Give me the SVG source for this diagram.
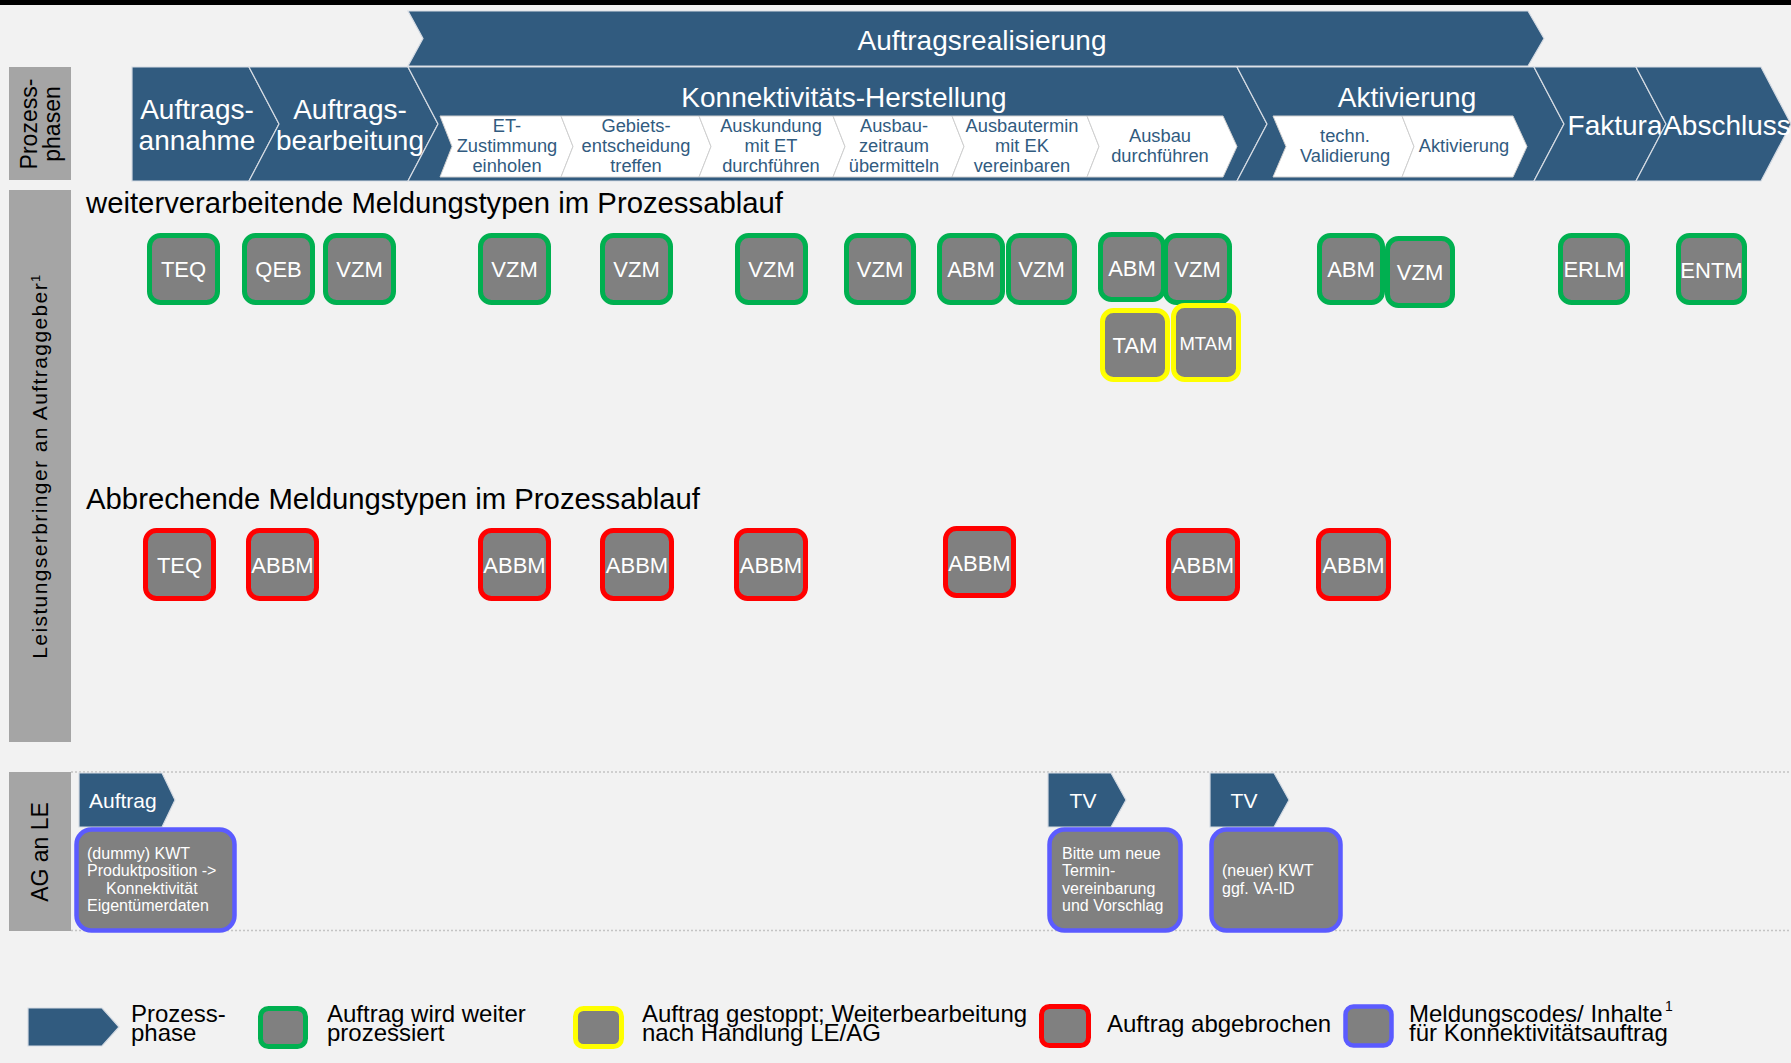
<svg xmlns="http://www.w3.org/2000/svg" width="1791" height="1063" viewBox="0 0 1791 1063">
<style>
text{font-family:"Liberation Sans",Arial,sans-serif}
.chev{fill:#315b7f;stroke:#d5dbe3;stroke-width:1.2}
.sub{fill:#ffffff;stroke:#d0d0d0;stroke-width:1}
.ct{fill:#ffffff;font-size:28px;text-anchor:middle}
.st{fill:#315b7f;font-size:18.3px;text-anchor:middle}
.lbl{fill:#a5a5a5}
.lt{fill:#000000;font-size:23px;text-anchor:middle}
.node{fill:#808080;stroke-width:5}
.g{stroke:#00b050}
.y{stroke:#ffff00}
.r{stroke:#ff0000}
.b{stroke:#5b5bff;stroke-width:4.5}
.nt{fill:#ffffff;font-size:22px;text-anchor:middle}
.bt{fill:#ffffff;font-size:16px}
.sec{fill:#000000;font-size:29.3px}
.leg{fill:#000000;font-size:24px}
.dot{stroke:#c4c4c4;stroke-width:1.5;stroke-dasharray:2 2;fill:none}
</style>
<rect x="0" y="0" width="1791" height="1063" fill="#f2f2f2"/>
<rect x="0" y="0" width="1791" height="5" fill="#000000"/>

<!-- left labels -->
<g id="label-prozessphasen">
<rect class="lbl" x="9" y="67" width="62" height="113"/>
<text class="lt" transform="translate(37,124) rotate(-90)"><tspan x="0" y="0">Prozess-</tspan><tspan x="0" dy="22.5">phasen</tspan></text>
</g>
<g id="label-le-an-ag">
<rect class="lbl" x="9" y="190" width="62" height="552"/>
<text class="lt" style="font-size:21px;letter-spacing:1.4px" transform="translate(47,466) rotate(-90)">Leistungserbringer an Auftraggeber<tspan font-size="13" baseline-shift="super">1</tspan></text>
</g>
<g id="label-ag-an-le">
<rect class="lbl" x="9" y="772" width="62" height="159"/>
<text class="lt" transform="translate(48,852) rotate(-90)">AG an LE</text>
</g>

<!-- dotted separators -->
<line class="dot" x1="71" y1="772" x2="1791" y2="772"/>
<line class="dot" x1="71" y1="930.5" x2="1791" y2="930.5"/>

<!-- banner -->
<g id="phase-auftragsrealisierung">
<polygon class="chev" points="408,11 1528,11 1544,38.5 1528,66 408,66 423,38.5"/>
<text class="ct" x="982" y="50">Auftragsrealisierung</text>
</g>

<!-- main phases -->
<g id="phase-auftragsannahme">
<polygon class="chev" points="132,67 249,67 279,124 249,181 132,181"/>
<text class="ct" x="197" y="119">Auftrags-</text>
<text class="ct" x="197" y="150">annahme</text>
</g>
<g id="phase-auftragsbearbeitung">
<polygon class="chev" points="249,67 408,67 438,124 408,181 249,181 279,124"/>
<text class="ct" x="350" y="119">Auftrags-</text>
<text class="ct" x="350" y="150">bearbeitung</text>
</g>
<g id="phase-konnektivitaet">
<polygon class="chev" points="408,67 1237,67 1267,124 1237,181 408,181 438,124"/>
<text class="ct" x="844" y="107">Konnektivitäts-Herstellung</text>
</g>
<g id="phase-aktivierung">
<polygon class="chev" points="1237,67 1534,67 1564,124 1534,181 1237,181 1267,124"/>
<text class="ct" x="1407" y="107">Aktivierung</text>
</g>
<g id="phase-faktura">
<polygon class="chev" points="1534,67 1636,67 1666,124 1636,181 1534,181 1564,124"/>
<text class="ct" x="1615" y="135">Faktura</text>
</g>
<g id="phase-abschluss">
<polygon class="chev" points="1636,67 1761,67 1791,124 1761,181 1636,181 1666,124"/>
<text class="ct" x="1727" y="135">Abschluss</text>
</g>

<!-- sub phases -->
<g id="sub-et-zustimmung">
<polygon class="sub" points="440,116 561,116 573,146.5 561,177 440,177 452,146.5"/>
<text class="st"><tspan x="507" y="132">ET-</tspan><tspan x="507" y="152">Zustimmung</tspan><tspan x="507" y="172">einholen</tspan></text>
</g>
<g id="sub-gebietsentscheidung">
<polygon class="sub" points="561,116 699,116 711,146.5 699,177 561,177 573,146.5"/>
<text class="st"><tspan x="636" y="132">Gebiets-</tspan><tspan x="636" y="152">entscheidung</tspan><tspan x="636" y="172">treffen</tspan></text>
</g>
<g id="sub-auskundung">
<polygon class="sub" points="699,116 833,116 845,146.5 833,177 699,177 711,146.5"/>
<text class="st"><tspan x="771" y="132">Auskundung</tspan><tspan x="771" y="152">mit ET</tspan><tspan x="771" y="172">durchführen</tspan></text>
</g>
<g id="sub-ausbauzeitraum">
<polygon class="sub" points="833,116 952,116 964,146.5 952,177 833,177 845,146.5"/>
<text class="st"><tspan x="894" y="132">Ausbau-</tspan><tspan x="894" y="152">zeitraum</tspan><tspan x="894" y="172">übermitteln</tspan></text>
</g>
<g id="sub-ausbautermin">
<polygon class="sub" points="952,116 1087,116 1099,146.5 1087,177 952,177 964,146.5"/>
<text class="st"><tspan x="1022" y="132">Ausbautermin</tspan><tspan x="1022" y="152">mit EK</tspan><tspan x="1022" y="172">vereinbaren</tspan></text>
</g>
<g id="sub-ausbau">
<polygon class="sub" points="1087,116 1223,116 1237,146.5 1223,177 1087,177 1099,146.5"/>
<text class="st"><tspan x="1160" y="142">Ausbau</tspan><tspan x="1160" y="162">durchführen</tspan></text>
</g>
<g id="sub-validierung">
<polygon class="sub" points="1273,116 1402,116 1414,146.5 1402,177 1273,177 1286,146.5"/>
<text class="st"><tspan x="1345" y="142">techn.</tspan><tspan x="1345" y="162">Validierung</tspan></text>
</g>
<g id="sub-aktivierung">
<polygon class="sub" points="1402,116 1513,116 1527,146.5 1513,177 1402,177 1414,146.5"/>
<text class="st" x="1464" y="152">Aktivierung</text>
</g>

<!-- section titles -->
<text class="sec" x="86" y="213">weiterverarbeitende Meldungstypen im Prozessablauf</text>
<text class="sec" x="86" y="509">Abbrechende Meldungstypen im Prozessablauf</text>

<!-- green nodes -->
<g id="g-teq"><rect class="node g" x="149.5" y="235.5" width="68" height="67" rx="11"/><text class="nt" x="183.5" y="277">TEQ</text></g>
<g id="g-qeb"><rect class="node g" x="244.5" y="235.5" width="68" height="67" rx="11"/><text class="nt" x="278.5" y="277">QEB</text></g>
<g id="g-vzm1"><rect class="node g" x="325.5" y="235.5" width="68" height="67" rx="11"/><text class="nt" x="359.5" y="277">VZM</text></g>
<g id="g-vzm2"><rect class="node g" x="480.5" y="235.5" width="68" height="67" rx="11"/><text class="nt" x="514.5" y="277">VZM</text></g>
<g id="g-vzm3"><rect class="node g" x="602.5" y="235.5" width="68" height="67" rx="11"/><text class="nt" x="636.5" y="277">VZM</text></g>
<g id="g-vzm4"><rect class="node g" x="737.5" y="235.5" width="68" height="67" rx="11"/><text class="nt" x="771.5" y="277">VZM</text></g>
<g id="g-vzm5"><rect class="node g" x="846.5" y="235.5" width="67" height="67" rx="11"/><text class="nt" x="880" y="277">VZM</text></g>
<g id="g-abm1"><rect class="node g" x="939.5" y="235.5" width="63" height="67" rx="11"/><text class="nt" x="971" y="277">ABM</text></g>
<g id="g-vzm6"><rect class="node g" x="1008.5" y="235.5" width="66" height="67" rx="11"/><text class="nt" x="1041.5" y="277">VZM</text></g>
<g id="g-abm2"><rect class="node g" x="1100.5" y="234.5" width="63" height="65" rx="11"/><text class="nt" x="1132" y="275.5">ABM</text></g>
<g id="g-vzm7"><rect class="node g" x="1165.5" y="235.5" width="64" height="67" rx="11"/><text class="nt" x="1197.5" y="277">VZM</text></g>
<g id="g-abm3"><rect class="node g" x="1319.5" y="235.5" width="63" height="67" rx="11"/><text class="nt" x="1351" y="277">ABM</text></g>
<g id="g-vzm8"><rect class="node g" x="1387.5" y="238.5" width="65" height="67" rx="11"/><text class="nt" x="1420" y="280">VZM</text></g>
<g id="g-erlm"><rect class="node g" x="1560.5" y="235.5" width="67" height="67" rx="11"/><text class="nt" x="1594" y="277">ERLM</text></g>
<g id="g-entm"><rect class="node g" x="1678.5" y="235.5" width="66" height="67" rx="11"/><text class="nt" x="1711.5" y="278">ENTM</text></g>

<!-- yellow nodes -->
<g id="y-tam"><rect class="node y" x="1102.5" y="310.5" width="65" height="69" rx="11"/><text class="nt" x="1135" y="352.5">TAM</text></g>
<g id="y-mtam"><rect class="node y" x="1173.5" y="305.5" width="65" height="74" rx="11"/><text class="nt" style="font-size:18.5px" x="1206" y="350">MTAM</text></g>

<!-- red nodes -->
<g id="r-teq"><rect class="node r" x="145.5" y="530.5" width="68" height="68" rx="11"/><text class="nt" x="179.5" y="572.5">TEQ</text></g>
<g id="r-abbm1"><rect class="node r" x="248.5" y="530.5" width="68" height="68" rx="11"/><text class="nt" x="282.5" y="572.5">ABBM</text></g>
<g id="r-abbm2"><rect class="node r" x="480.5" y="530.5" width="68" height="68" rx="11"/><text class="nt" x="514.5" y="572.5">ABBM</text></g>
<g id="r-abbm3"><rect class="node r" x="602.5" y="530.5" width="69" height="68" rx="11"/><text class="nt" x="637" y="572.5">ABBM</text></g>
<g id="r-abbm4"><rect class="node r" x="736.5" y="530.5" width="69" height="68" rx="11"/><text class="nt" x="771" y="572.5">ABBM</text></g>
<g id="r-abbm5"><rect class="node r" x="945.5" y="528.5" width="68" height="67" rx="11"/><text class="nt" x="979.5" y="570.5">ABBM</text></g>
<g id="r-abbm6"><rect class="node r" x="1168.5" y="530.5" width="69" height="68" rx="11"/><text class="nt" x="1203" y="572.5">ABBM</text></g>
<g id="r-abbm7"><rect class="node r" x="1318.5" y="530.5" width="70" height="68" rx="11"/><text class="nt" x="1353.5" y="572.5">ABBM</text></g>

<!-- AG an LE -->
<g id="ag-auftrag">
<polygon class="chev" points="79,773 162,773 175,800 162,827 79,827"/>
<text class="nt" style="text-anchor:start;font-size:21px" x="89" y="808">Auftrag</text>
</g>
<g id="ag-auftrag-inhalt">
<rect class="node b" x="76.5" y="829.5" width="158" height="101" rx="15"/>
<text class="bt"><tspan x="87" y="859">(dummy) KWT</tspan><tspan x="87" y="876">Produktposition -&gt;</tspan><tspan x="106" y="894">Konnektivität</tspan><tspan x="87" y="911">Eigentümerdaten</tspan></text>
</g>
<g id="ag-tv1">
<polygon class="chev" points="1048,773 1111,773 1126,800 1111,827 1048,827"/>
<text class="nt" style="font-size:21px" x="1083" y="808">TV</text>
</g>
<g id="ag-tv1-inhalt">
<rect class="node b" x="1049.5" y="829.5" width="131" height="101" rx="15"/>
<text class="bt"><tspan x="1062" y="859">Bitte um neue</tspan><tspan x="1062" y="876">Termin-</tspan><tspan x="1062" y="894">vereinbarung</tspan><tspan x="1062" y="911">und Vorschlag</tspan></text>
</g>
<g id="ag-tv2">
<polygon class="chev" points="1210,773 1274,773 1289,800 1274,827 1210,827"/>
<text class="nt" style="font-size:21px" x="1244" y="808">TV</text>
</g>
<g id="ag-tv2-inhalt">
<rect class="node b" x="1211.5" y="829.5" width="129" height="101" rx="15"/>
<text class="bt"><tspan x="1222" y="876">(neuer) KWT</tspan><tspan x="1222" y="894">ggf. VA-ID</tspan></text>
</g>

<g id="connectors"></g>

<!-- legend -->
<g id="legend">
<polygon class="chev" points="28,1008 102,1008 119,1027 102,1046 28,1046"/>
<text class="leg"><tspan x="131" y="1022">Prozess-</tspan><tspan x="131" y="1041">phase</tspan></text>
<rect class="node g" x="260.5" y="1008.5" width="45" height="38" rx="8"/>
<text class="leg"><tspan x="327" y="1022">Auftrag wird weiter</tspan><tspan x="327" y="1041">prozessiert</tspan></text>
<rect class="node y" x="575.5" y="1008.5" width="46" height="38" rx="8"/>
<text class="leg"><tspan x="642" y="1022">Auftrag gestoppt; Weiterbearbeitung</tspan><tspan x="642" y="1041">nach Handlung LE/AG</tspan></text>
<rect class="node r" x="1041.5" y="1006.5" width="47" height="39" rx="8"/>
<text class="leg" x="1107" y="1032">Auftrag abgebrochen</text>
<rect class="node b" x="1345.5" y="1006.5" width="46" height="39" rx="8"/>
<text class="leg"><tspan x="1409" y="1022">Meldungscodes/ Inhalte</tspan><tspan x="1665" y="1011" style="font-size:14px">1</tspan><tspan x="1409" y="1041">für Konnektivitätsauftrag</tspan></text>
</g>
</svg>
